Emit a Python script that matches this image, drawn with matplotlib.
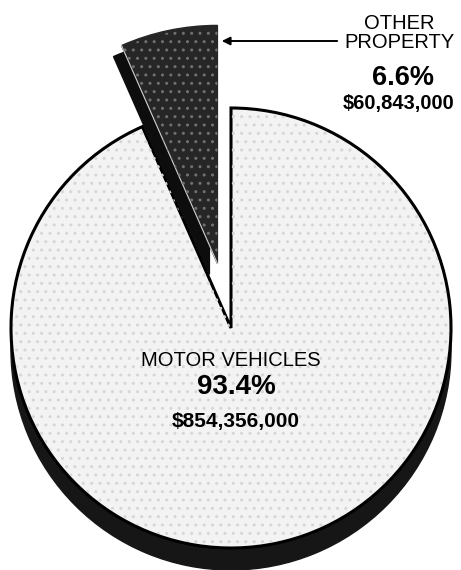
import numpy as np
import matplotlib.pyplot as plt
from matplotlib.patches import Wedge

# data
labels = ["OTHER\nPROPERTY", "MOTOR VEHICLES"]
shares = [6.6, 93.4]
amounts = ["$60,843,000", "$854,356,000"]

# figure in pixel units (y measured from the bottom)
W, H = 461, 570
fig = plt.figure(figsize=(W / 100, H / 100), dpi=100)
ax = fig.add_axes([0, 0, 1, 1])

cx, cy = 231, H - 328      # pie centre
R = 220                    # pie radius
depth = 22                 # thickness of the 3d edge

# dark rim under the big slice
ax.add_patch(Wedge((cx, cy - depth), R, 0, 360, facecolor="#161616", edgecolor="#161616", lw=1, zorder=1))

# explode is in data units (pixels here)
wedges, _ = ax.pie(shares, startangle=90, counterclock=True, radius=R, center=(cx, cy),
                   explode=[66, 0], colors=["#262626", "#f3f3f3"],
                   wedgeprops=dict(edgecolor="black", linewidth=2.2))
other, motor = wedges
motor.set_zorder(3)

# white gap where the small slice was pulled out
ax.add_patch(Wedge((cx, cy), R + 3, other.theta1, other.theta2, facecolor="white", lw=0, zorder=2))

# pulled-out slice: a bit larger, with its own side face (behind the big slice)
r2 = 238
other.set_radius(r2)
other.set_edgecolor("#262626")
other.set_linewidth(1)
other.set_zorder(5)
ox, oy = other.center
ax.add_patch(Wedge((ox - 8, oy - 11), r2, other.theta1, other.theta2,
                   facecolor="#0d0d0d", edgecolor="#0d0d0d", lw=1, zorder=2.5))
# light line along the left edge of the face
a = np.deg2rad(other.theta2)
ax.plot([ox, ox + r2 * np.cos(a)], [oy, oy + r2 * np.sin(a)], color="#d0d0d0", lw=0.8, zorder=6)

# speckle
ax.add_patch(Wedge((cx, cy), R - 2, motor.theta1, motor.theta2, fill=False, hatch="..",
                   edgecolor="#d6d6d6", lw=0, zorder=4))
ax.add_patch(Wedge((ox, oy), r2 - 2, other.theta1, other.theta2, fill=False, hatch="..",
                   edgecolor="#707070", lw=0, zorder=6))

# arrow to the small slice
ax.annotate("", xy=(219, H - 41), xytext=(340, H - 41),
            arrowprops=dict(arrowstyle="-|>", lw=1.4, color="black", mutation_scale=12))

font = "Liberation Sans"
ax.text(399, H - 33, labels[0], ha="center", va="center", fontsize=14.5, family=font,
        linespacing=1.05, zorder=10)
ax.text(403, H - 78, f"{shares[0]}%", ha="center", va="center", fontsize=19.5,
        fontweight="bold", family=font, zorder=10)
ax.text(399, H - 104, amounts[0], ha="center", va="center", fontsize=14.5,
        fontweight="bold", family=font, zorder=10)

ax.text(231, H - 361, labels[1], ha="center", va="center", fontsize=14.5, family=font, zorder=10)
ax.text(236, H - 387, f"{shares[1]}%", ha="center", va="center", fontsize=20,
        fontweight="bold", family=font, zorder=10)
ax.text(236, H - 421, amounts[1], ha="center", va="center", fontsize=15,
        fontweight="bold", family=font, zorder=10)

ax.set_xlim(0, W)
ax.set_ylim(0, H)
ax.set_aspect("equal")
ax.axis("off")

fig.savefig("out.png", dpi=100, facecolor="white")
